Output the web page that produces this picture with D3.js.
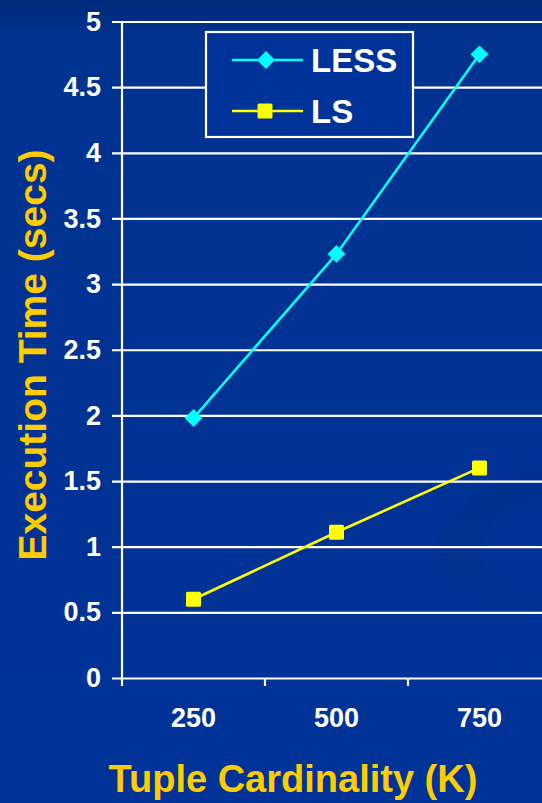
<!DOCTYPE html>
<html>
<head>
<meta charset="utf-8">
<script src="https://cdn.jsdelivr.net/npm/d3@7"></script>
<style>
  html, body { margin: 0; padding: 0; background: #003399; }
  svg { display: block; }
  text { font-family: "Liberation Sans", Arial, Helvetica, sans-serif; font-weight: bold; }
</style>
</head>
<body>
<svg id="chart" width="542" height="803"></svg>
<script>
// Execution time vs. tuple cardinality
const categories = ["250", "500", "750"];
const lessValues = [1.98, 3.23, 4.75];
const lsValues = [0.6, 1.11, 1.6];
const yTickValues = [0, 0.5, 1, 1.5, 2, 2.5, 3, 3.5, 4, 4.5, 5];
const seriesNames = ["LESS", "LS"];

const W = 542, H = 803;
const plot = { left: 122, top: 21.5, bottom: 678, right: 551 };

const svg = d3.select("#chart");

// background with a darker band at the top
const defs = svg.append("defs");
const grad = defs.append("linearGradient")
  .attr("id", "bg").attr("x1", 0).attr("y1", 0).attr("x2", 0).attr("y2", 1);
grad.append("stop").attr("offset", 0).attr("stop-color", "#00297b");
grad.append("stop").attr("offset", 0.045).attr("stop-color", "#003290");
grad.append("stop").attr("offset", 1).attr("stop-color", "#003399");
svg.append("rect").attr("width", W).attr("height", H).attr("fill", "url(#bg)");

// faint swoosh decoration on the right
svg.append("path")
  .attr("d", "M542,466 C500,478 440,505 437,545 C436,585 495,605 542,612 L542,598 C505,590 478,575 480,550 C483,520 515,505 542,497 Z")
  .attr("fill", "#002c88").attr("opacity", 0.4);

const x = d3.scaleBand().domain(categories).range([plot.left, plot.right]);
const y = d3.scaleLinear().domain([0, 5]).range([plot.bottom, plot.top]);

// horizontal gridlines with left ticks and labels
const yAxis = d3.axisLeft(y)
  .tickValues(yTickValues)
  .tickSize(-(W - 112))
  .tickPadding(11)
  .tickFormat(d => String(d));
const gy = svg.append("g").attr("transform", "translate(112,0)").call(yAxis);
gy.select(".domain").remove();
gy.selectAll(".tick line").attr("stroke", "#ffffff").attr("stroke-width", 2.2);
gy.selectAll(".tick text")
  .attr("fill", "#ffffff").attr("font-size", 27)
  .style("font-family", "'Liberation Sans', Arial, sans-serif").style("font-weight", "bold");

// vertical axis line
svg.append("line")
  .attr("x1", plot.left).attr("x2", plot.left)
  .attr("y1", plot.top).attr("y2", plot.bottom + 8)
  .attr("stroke", "#ffffff").attr("stroke-width", 2.2);

// category boundary ticks under the x axis
categories.forEach(c => {
  const bx = x(c) + x.bandwidth();
  svg.append("line")
    .attr("x1", bx).attr("x2", bx)
    .attr("y1", plot.bottom).attr("y2", plot.bottom + 8)
    .attr("stroke", "#ffffff").attr("stroke-width", 2.2);
});

// category labels
const xAxis = d3.axisBottom(x).tickSize(0).tickPadding(30);
const gx = svg.append("g").attr("transform", `translate(0,${plot.bottom})`).call(xAxis);
gx.select(".domain").remove();
gx.selectAll(".tick text")
  .attr("fill", "#ffffff").attr("font-size", 27)
  .style("font-family", "'Liberation Sans', Arial, sans-serif").style("font-weight", "bold");

const cx = c => x(c) + x.bandwidth() / 2;
const line = d3.line().x(d => cx(d.c)).y(d => y(d.v));

const lessData = categories.map((c, i) => ({ c, v: lessValues[i] }));
const lsData = categories.map((c, i) => ({ c, v: lsValues[i] }));

// LESS series
svg.append("path").datum(lessData)
  .attr("d", line).attr("fill", "none")
  .attr("stroke", "#00ffff").attr("stroke-width", 2.6);
const diamond = d3.symbol().type(d3.symbolSquare).size(160);
svg.selectAll(".less-pt").data(lessData).enter().append("path")
  .attr("d", diamond)
  .attr("transform", d => `translate(${cx(d.c)},${y(d.v)}) rotate(45)`)
  .attr("fill", "#00ffff");

// LS series
svg.append("path").datum(lsData)
  .attr("d", line).attr("fill", "none")
  .attr("stroke", "#ffff00").attr("stroke-width", 2.6);
svg.selectAll(".ls-pt").data(lsData).enter().append("rect")
  .attr("x", d => cx(d.c) - 7.5).attr("y", d => y(d.v) - 7.5)
  .attr("width", 15).attr("height", 15).attr("rx", 1.5)
  .attr("fill", "#ffff00");

// legend
const lg = svg.append("g");
lg.append("rect")
  .attr("x", 206).attr("y", 32).attr("width", 207).attr("height", 105)
  .attr("fill", "#003399").attr("stroke", "#ffffff").attr("stroke-width", 2.2);
const legendItems = [
  { name: seriesNames[0], color: "#00ffff", y: 60, kind: "diamond" },
  { name: seriesNames[1], color: "#ffff00", y: 111, kind: "square" }
];
legendItems.forEach(it => {
  lg.append("line")
    .attr("x1", 232).attr("x2", 303).attr("y1", it.y).attr("y2", it.y)
    .attr("stroke", it.color).attr("stroke-width", 2.6);
  if (it.kind === "diamond") {
    lg.append("path").attr("d", diamond)
      .attr("transform", `translate(266,${it.y}) rotate(45)`).attr("fill", it.color);
  } else {
    lg.append("rect").attr("x", 265 - 7.5).attr("y", it.y - 7.5)
      .attr("width", 15).attr("height", 15).attr("rx", 1.5).attr("fill", it.color);
  }
  lg.append("text")
    .attr("x", 311).attr("y", it.y + 12)
    .attr("fill", "#ffffff").attr("font-size", 33)
    .text(it.name);
});

// axis titles
svg.append("text")
  .attr("x", 293).attr("y", 792)
  .attr("text-anchor", "middle")
  .attr("fill", "#ffcc00").attr("font-size", 38)
  .text("Tuple Cardinality (K)");

svg.append("text")
  .attr("transform", "translate(46,355) rotate(-90)")
  .attr("text-anchor", "middle")
  .attr("fill", "#ffcc00").attr("font-size", 39)
  .text("Execution Time (secs)");
</script>
</body>
</html>
